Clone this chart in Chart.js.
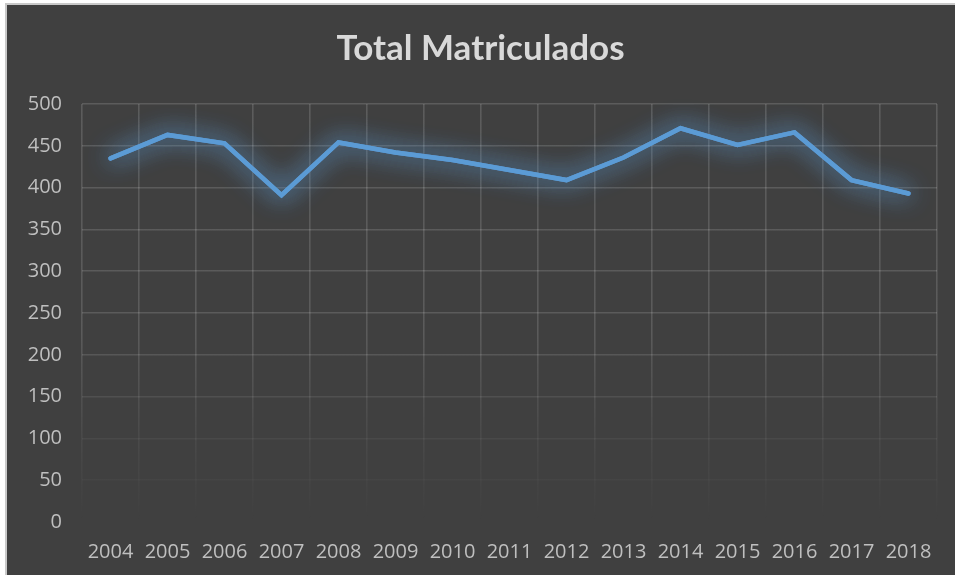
<!DOCTYPE html>
<html>
<head>
<meta charset="utf-8">
<script src="https://cdn.jsdelivr.net/npm/chart.js@4"></script>
<style>
  html, body { margin: 0; padding: 0; background: #ffffff; }
  body { width: 955px; height: 575px; overflow: hidden; position: relative; }
  #frame {
    position: absolute; left: 5px; top: 3px; width: 950px; height: 572px;
    background: #404040; border-top: 2px solid #c9c9c9; border-left: 2px solid #c9c9c9;
  }
  #wrap { position: absolute; left: 0; top: 0; width: 948px; height: 570px; }
</style>
</head>
<body>
<div id="frame"><div id="wrap"><canvas id="chart"></canvas></div></div>
<script>
const years = ["2004", "2005", "2006", "2007", "2008", "2009", "2010", "2011",
               "2012", "2013", "2014", "2015", "2016", "2017", "2018"];
const matriculados = [435, 463, 453, 391, 454, 442, 433, 421, 409, 436, 471, 451, 466, 409, 393];
const yMin = 0;
const yMax = 500;
const yStep = 50;

// gridlines fade out towards the bottom of the plot
const gridGradient = (ctx) => {
  const area = ctx.chart.chartArea;
  if (!area) return "#585858";
  const g = ctx.chart.ctx.createLinearGradient(0, area.top, 0, area.bottom);
  g.addColorStop(0, "rgba(255,255,255,0.15)");
  g.addColorStop(0.55, "rgba(255,255,255,0.14)");
  g.addColorStop(0.8, "rgba(255,255,255,0.05)");
  g.addColorStop(1, "rgba(255,255,255,0)");
  return g;
};

// soft blue glow under the line (drawn twice so it builds up)
const glowPlugin = {
  id: "glow",
  beforeDatasetDraw(chart) {
    const c = chart.ctx;
    c.save();
    c.shadowColor = "rgba(91,155,213,0.9)";
    c.shadowBlur = 24;
  },
  afterDatasetDraw(chart, args) {
    const c = chart.ctx;
    c.save();
    c.beginPath();
    c.rect(chart.chartArea.left - 20, chart.chartArea.top - 20,
           chart.chartArea.width + 40, chart.chartArea.height + 40);
    c.clip();
    args.meta.dataset.draw(c, chart.chartArea);
    c.restore();
    c.restore();
  }
};

new Chart(document.getElementById("chart"), {
  type: "line",
  data: {
    labels: years,
    datasets: [{
      label: "Total Matriculados",
      data: matriculados,
      borderColor: "#5b9bd5",
      borderWidth: 4.5,
      borderCapStyle: "round",
      fill: false,
      tension: 0,
      pointRadius: 0
    }]
  },
  options: {
    responsive: true,
    maintainAspectRatio: false,
    animation: false,
    layout: { padding: { left: 17, right: 18, top: 0, bottom: -7 } },
    scales: {
      x: {
        offset: true,
        grid: { offset: true, color: gridGradient, lineWidth: 1.6, drawTicks: false },
        border: { display: false },
        ticks: { color: "#bfbfbf", padding: 18, maxRotation: 0, autoSkip: false,
                 font: { family: "'Open Sans'", size: 20 } }
      },
      y: {
        min: yMin,
        max: yMax,
        afterFit: (scale) => { scale.width = 58; },
        grid: { color: gridGradient, lineWidth: 1.6, drawTicks: false },
        border: { display: false },
        ticks: { stepSize: yStep, color: "#bfbfbf", padding: 20,
                 font: { family: "'Open Sans'", size: 20 } }
      }
    },
    plugins: {
      legend: { display: false },
      tooltip: { enabled: false },
      title: {
        display: true,
        text: "Total Matriculados",
        color: "#d9d9d9",
        font: { family: "Lato", size: 35, weight: "bold" },
        padding: { top: 23, bottom: 34 }
      }
    }
  },
  plugins: [glowPlugin]
});
</script>
</body>
</html>
